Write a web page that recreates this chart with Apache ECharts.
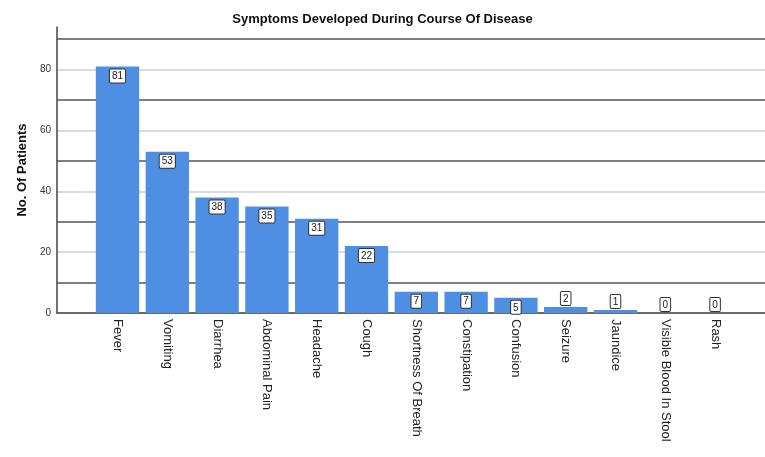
<!DOCTYPE html>
<html><head><meta charset="utf-8">
<script src="https://cdn.jsdelivr.net/npm/echarts@6/dist/echarts.min.js"></script>
<style>html,body{margin:0;padding:0;background:#fff}#c{width:765px;height:457px}</style>
</head><body><div id="c"></div>
<script>
const categories = ['Fever','Vomiting','Diarrhea','Abdominal Pain','Headache','Cough','Shortness Of Breath','Constipation','Confusion','Seizure','Jaundice','Visible Blood In Stool','Rash'];
const patients = [81,53,38,35,31,22,7,7,5,2,1,0,0];
const yTicks = [0,20,40,60,80];

const chart = echarts.init(document.getElementById('c'));
const font = 'Liberation Sans, Arial, sans-serif';
chart.setOption({
  animation:false,
  backgroundColor:'#fff',
  title:{text:'Symptoms Developed During Course Of Disease',left:'center',top:8,
    textStyle:{fontFamily:font,fontSize:13,fontWeight:'bold',color:'#111'}},
  grid:[
    {left:92.6,right:25,top:27,bottom:144},
    {left:57,right:0,top:27,bottom:144}
  ],
  xAxis:[
    {type:'category',gridIndex:0,data:categories,
      axisLine:{show:false},axisTick:{show:false},
      axisLabel:{rotate:-90,fontFamily:font,fontSize:13,color:'#222',margin:6,interval:0}},
    {type:'value',gridIndex:1,min:0,max:1,show:true,
      axisLine:{show:true,lineStyle:{color:'#444',width:1.5}},axisTick:{show:false},
      axisLabel:{show:false},splitLine:{show:false}}
  ],
  yAxis:[
    {type:'value',gridIndex:0,min:0,max:94,interval:10,show:false,splitLine:{show:false}},
    {type:'value',gridIndex:1,min:0,max:94,interval:10,
      name:'No. Of Patients',nameLocation:'middle',nameGap:27,
      nameTextStyle:{fontFamily:font,fontSize:13,fontWeight:'bold',color:'#111'},
      axisLine:{show:true,lineStyle:{color:'#444',width:1.5}},
      axisTick:{show:false},
      axisLabel:{fontFamily:font,fontSize:10,color:'#333',margin:6,
        formatter:v=>yTicks.includes(v)?String(v):''},
      splitLine:{show:true,showMaxLine:false,lineStyle:{color:['#cfcfcf','#555'],width:1.5}}}
  ],
  series:[{
    type:'bar',xAxisIndex:0,yAxisIndex:0,barCategoryGap:'13%',
    itemStyle:{color:'#4f8fe3'},
    data:patients.map(v=>({value:v,label:v<=2?{position:'top',distance:2}:{}})),
    label:{show:true,position:'insideTop',distance:3,fontFamily:font,fontSize:10,color:'#222',
      backgroundColor:'#fff',borderColor:'#333',borderWidth:1,borderRadius:1,padding:[2,2,1,2]}
  }]
});
</script></body></html>
